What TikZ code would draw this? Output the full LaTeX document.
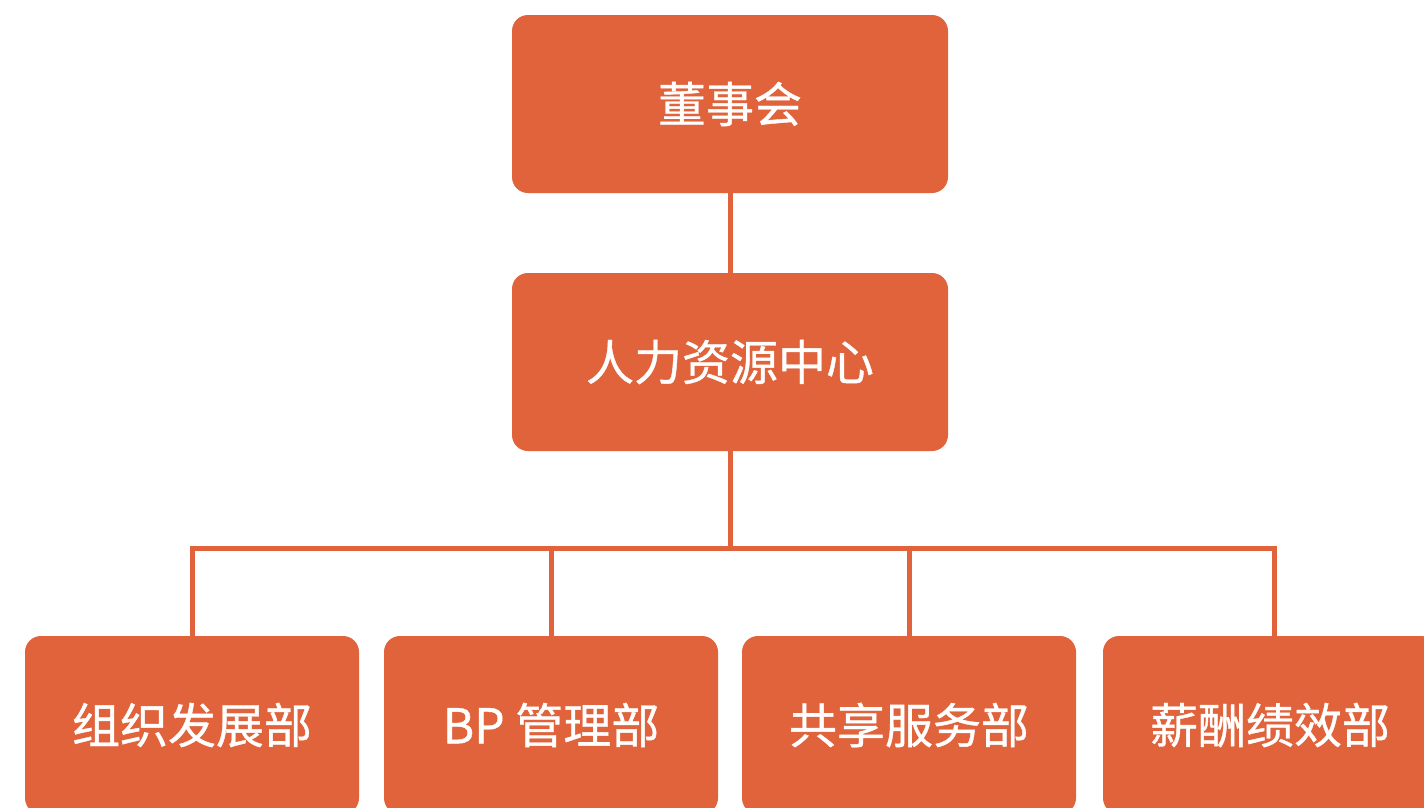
\documentclass[tikz,border=0pt]{standalone}
\usepackage{fontspec}
\newfontfamily\cjk{Noto Sans CJK SC}[FakeBold=0.8]
\usetikzlibrary{positioning}
\definecolor{orgorange}{HTML}{E0633C}

\begin{document}
\begin{tikzpicture}[
    unit/.style={draw=none, fill=orgorange, rounded corners=0.32cm,
      minimum width=8.72cm, minimum height=3.56cm, inner sep=0pt,
      text=white, font=\cjk\fontsize{27.3}{30}\selectfont},
    dept/.style={unit, minimum width=6.68cm},
    link/.style={orgorange, line width=0.1cm}]

	\clip (0,0) rectangle (28.48,-16.16);
	\fill[white] (0,0) rectangle (28.48,-16.16);

	\def\dy{-14.5};

	\node[unit] (board) at (14.6,-2.08) {董事会};
	\node[unit] (hr) at (14.6,-7.24) {人力资源中心};

    \foreach \x/\name/\txt in {3.84/od/组织发展部, 11.02/bp/BP\ 管理部, 18.18/ss/共享服务部, 25.4/cb/薪酬绩效部} {
         \node[dept] (\name) at (\x,\dy) {\txt};
    }

	\coordinate (bus) at (14.6,-10.96);

	\draw[link] (board) -- (hr);
	\draw[link] (hr) -- (bus);
	\draw[link] (bus) -| (od.north);
	\draw[link] (bus) -| (bp.north);
	\draw[link] (bus) -| ([xshift=0.08cm]cb.north);
	\draw[link] (bus) -| (ss.north);

\end{tikzpicture}
\end{document}
